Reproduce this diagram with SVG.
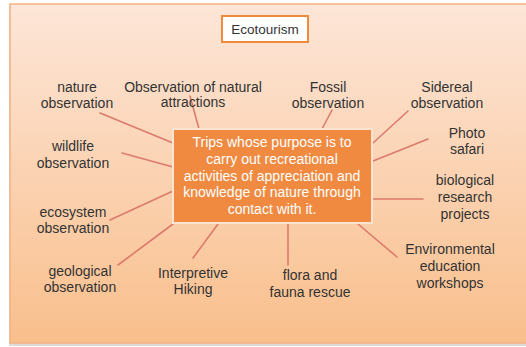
<svg xmlns="http://www.w3.org/2000/svg" width="526" height="347" viewBox="0 0 526 347">
  <defs>
    <linearGradient id="panelFill" x1="0" y1="0" x2="0" y2="1">
      <stop offset="0" stop-color="#fde6d8"/>
      <stop offset="1" stop-color="#f9bf8c"/>
    </linearGradient>
  </defs>
  <style>
    .label { font-family: "Liberation Sans", Arial, sans-serif; font-size: 14px; fill: #333333; text-anchor: middle; }
    .core { font-family: "Liberation Sans", Arial, sans-serif; font-size: 14px; fill: #ffffff; text-anchor: middle; }
    .link { stroke: #dc7a6c; stroke-width: 1.6; fill: none; stroke-linecap: round; }
  </style>

  <!-- background panel with soft shadow -->
  <rect x="9" y="5" width="520" height="341" fill="#c9c2bd" opacity="0.6"/>
  <rect x="10" y="4" width="520" height="339" fill="url(#panelFill)" stroke="#f3b382" stroke-width="1.5"/>

  <!-- title -->
  <g id="title">
    <rect x="222" y="16" width="86" height="26" fill="#ffffff" stroke="#f08a3c" stroke-width="2"/>
    <text class="label" x="265" y="34" style="font-size:13.5px">Ecotourism</text>
  </g>

  <!-- connectors -->
  <g id="connectors">
    <line class="link" x1="100" y1="113" x2="173" y2="143"/>
    <line class="link" x1="190" y1="96" x2="199" y2="129"/>
    <line class="link" x1="332" y1="110" x2="322" y2="129"/>
    <line class="link" x1="408" y1="111" x2="373" y2="143"/>
    <line class="link" x1="428" y1="139" x2="373" y2="161"/>
    <line class="link" x1="122" y1="153" x2="173" y2="167"/>
    <line class="link" x1="373" y1="199" x2="423" y2="199"/>
    <line class="link" x1="110" y1="220" x2="173" y2="191"/>
    <line class="link" x1="118" y1="265" x2="173" y2="224"/>
    <line class="link" x1="193" y1="258" x2="218" y2="224"/>
    <line class="link" x1="288" y1="265" x2="288" y2="224"/>
    <line class="link" x1="358" y1="224" x2="397" y2="257"/>
  </g>

  <!-- central definition -->
  <g id="definition">
    <rect x="173" y="129" width="199" height="94" fill="#f08a41" stroke="#fbe3d2" stroke-width="2"/>
    <text class="core" x="272" y="147">Trips whose purpose is to</text>
    <text class="core" x="272" y="164">carry out recreational</text>
    <text class="core" x="272" y="181">activities of appreciation and</text>
    <text class="core" x="272" y="197">knowledge of nature through</text>
    <text class="core" x="272" y="214">contact with it.</text>
  </g>

  <!-- activity labels -->
  <g id="nature-observation">
    <text class="label" x="77" y="92">nature</text>
    <text class="label" x="77" y="108">observation</text>
  </g>
  <g id="natural-attractions">
    <text class="label" x="193" y="92">Observation of natural</text>
    <text class="label" x="193" y="107">attractions</text>
  </g>
  <g id="fossil-observation">
    <text class="label" x="328" y="92">Fossil</text>
    <text class="label" x="328" y="108">observation</text>
  </g>
  <g id="sidereal-observation">
    <text class="label" x="447" y="92">Sidereal</text>
    <text class="label" x="447" y="108">observation</text>
  </g>
  <g id="photo-safari">
    <text class="label" x="467" y="138">Photo</text>
    <text class="label" x="467" y="154">safari</text>
  </g>
  <g id="wildlife-observation">
    <text class="label" x="73" y="151">wildlife</text>
    <text class="label" x="73" y="168">observation</text>
  </g>
  <g id="biological-research">
    <text class="label" x="465" y="185">biological</text>
    <text class="label" x="465" y="202">research</text>
    <text class="label" x="465" y="219">projects</text>
  </g>
  <g id="ecosystem-observation">
    <text class="label" x="73" y="217">ecosystem</text>
    <text class="label" x="73" y="233">observation</text>
  </g>
  <g id="geological-observation">
    <text class="label" x="80" y="276">geological</text>
    <text class="label" x="80" y="292">observation</text>
  </g>
  <g id="interpretive-hiking">
    <text class="label" x="193" y="278">Interpretive</text>
    <text class="label" x="193" y="294">Hiking</text>
  </g>
  <g id="flora-fauna-rescue">
    <text class="label" x="310" y="280">flora and</text>
    <text class="label" x="310" y="297">fauna rescue</text>
  </g>
  <g id="environmental-education">
    <text class="label" x="450" y="254">Environmental</text>
    <text class="label" x="450" y="271">education</text>
    <text class="label" x="450" y="288">workshops</text>
  </g>
</svg>
